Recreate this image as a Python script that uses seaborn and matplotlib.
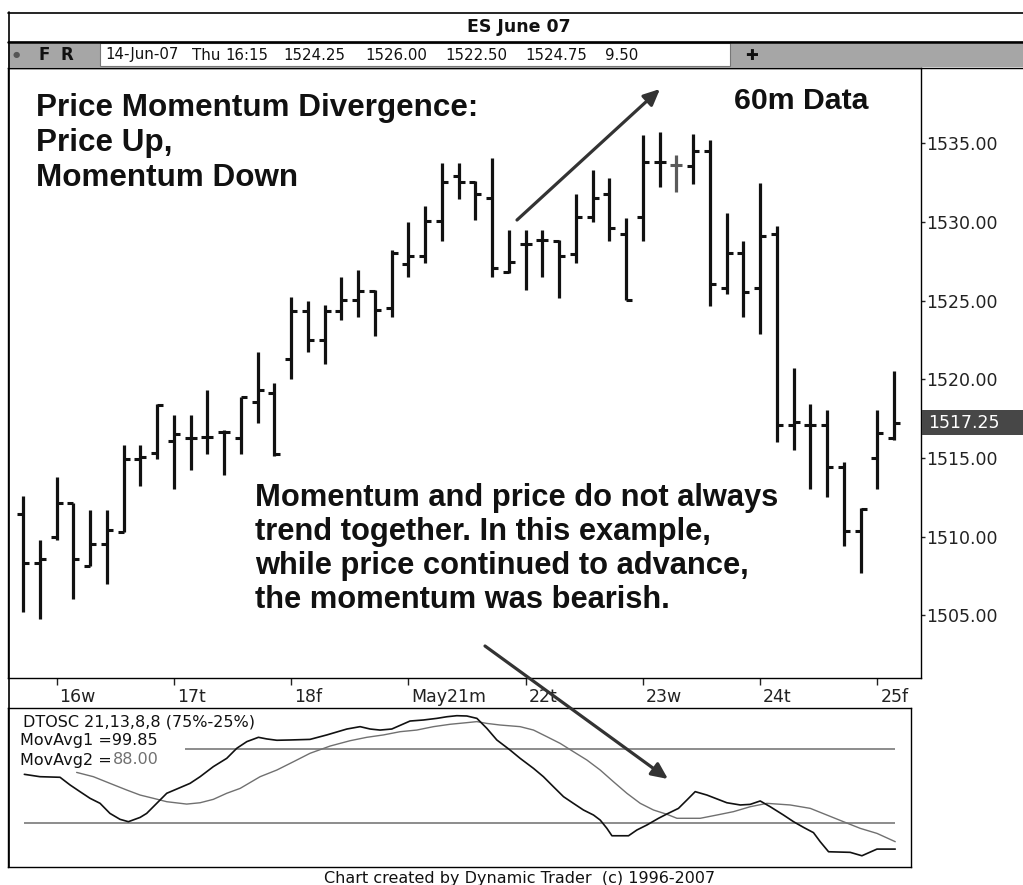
import numpy as np
import pandas as pd
import matplotlib
matplotlib.use("Agg")
import matplotlib.pyplot as plt
import matplotlib.transforms as mtransforms
from matplotlib.patches import Rectangle, FancyArrowPatch
from matplotlib.lines import Line2D
import seaborn as sns

# ---------------- data ----------------
bar_open = [1511.4, 1508.3, 1510.0, 1512.1, 1508.1, 1509.55, 1510.3, 1514.95, 1515.3, 1516.1,
            1516.25, 1516.3, 1516.65, 1516.25, 1518.55, 1519.1, 1521.3, 1524.35, 1522.5, 1524.35,
            1525.05, 1525.6, 1524.55, 1527.35, 1527.85, 1530.1, 1532.9, 1532.55, 1531.5, 1526.85,
            1528.6, 1528.85, 1528.8, 1528.0, 1530.3, 1531.8, 1529.25, 1530.35, 1533.85, 1533.6,
            1533.55, 1534.55, 1525.8, 1528.05, 1525.8, 1529.25, 1517.1, 1517.1, 1517.1, 1514.45,
            1510.35, 1515.0, 1516.25]
bar_high = [1512.6, 1509.75, 1513.8, 1512.1, 1511.7, 1511.7, 1515.8, 1515.8, 1518.4, 1517.7,
            1517.7, 1519.3, 1516.75, 1518.9, 1521.75, 1519.75, 1525.25, 1525.0, 1524.7, 1526.5,
            1526.95, 1525.7, 1528.2, 1530.0, 1531.0, 1533.75, 1533.75, 1532.6, 1534.05, 1529.5,
            1529.5, 1529.5, 1528.85, 1531.8, 1533.3, 1532.8, 1530.25, 1535.55, 1535.75, 1534.25,
            1535.6, 1535.25, 1530.55, 1528.8, 1532.5, 1529.75, 1520.7, 1518.45, 1518.05, 1514.75,
            1511.8, 1518.05, 1520.5]
bar_low = [1505.2, 1504.75, 1509.75, 1506.0, 1508.1, 1506.95, 1510.3, 1513.2, 1514.95, 1513.0,
           1514.25, 1515.25, 1513.9, 1515.25, 1517.25, 1515.1, 1520.0, 1521.75, 1520.95, 1523.75,
           1523.95, 1522.75, 1523.95, 1526.5, 1527.4, 1528.8, 1531.45, 1530.15, 1526.5, 1526.75,
           1525.7, 1526.5, 1525.2, 1527.4, 1530.0, 1528.8, 1525.05, 1528.8, 1532.25, 1531.9,
           1532.45, 1524.65, 1525.45, 1523.95, 1522.9, 1516.0, 1515.5, 1513.0, 1512.5, 1509.4,
           1507.7, 1513.0, 1516.15]
bar_close = [1508.3, 1508.6, 1512.1, 1508.6, 1509.55, 1510.4, 1514.95, 1515.05, 1518.35, 1516.55,
             1516.25, 1516.3, 1516.65, 1518.85, 1519.3, 1515.25, 1524.35, 1522.5, 1524.35, 1525.05,
             1525.6, 1524.4, 1528.05, 1527.85, 1530.1, 1532.55, 1532.55, 1531.8, 1527.05, 1527.45,
             1528.6, 1528.85, 1527.85, 1530.35, 1531.5, 1529.6, 1525.05, 1533.85, 1533.85, 1533.6,
             1534.55, 1526.05, 1528.05, 1525.55, 1529.1, 1517.1, 1517.3, 1517.1, 1514.45, 1510.35,
             1511.75, 1516.6, 1517.25]

day_labels = ["16w", "17t", "18f", "May21m", "22t", "23w", "24t", "25f"]
day_first_bar = [2, 9, 16, 23, 30, 37, 44, 51]
price_ticks = [1505, 1510, 1515, 1520, 1525, 1530, 1535]

osc_fast_x = [0.08, 1.01, 2.21, 2.81, 3.40, 4.0, 4.60, 5.19, 5.79, 6.29, 6.99, 7.38, 7.98, 8.58, 9.37,
              9.97, 10.57, 11.36, 12.16, 12.76, 13.36, 14.05, 14.55, 15.15, 15.94, 17.13, 18.13, 19.33,
              20.12, 20.72, 21.31, 22.01, 23.1, 23.9, 24.7, 25.3, 25.89, 26.49, 27.09, 27.68, 28.28,
              29.07, 29.67, 30.47, 31.06, 31.66, 32.26, 32.85, 33.45, 34.05, 34.45, 34.85, 35.15,
              36.14, 36.64, 37.24, 37.93, 38.43, 39.12, 39.62, 40.12, 40.82, 42.01, 42.81, 43.4, 44.0,
              44.6, 45.39, 45.99, 46.58, 47.18, 47.58, 48.08, 49.37, 50.07, 50.97, 52.06]
osc_fast_v = [58.1, 56.5, 56.1, 50.9, 46.4, 41.9, 38.5, 31.7, 27.7, 26.1, 29.0, 31.7, 38.5, 45.3, 49.1,
              52.0, 56.5, 63.3, 68.9, 75.7, 80.2, 83.1, 82.0, 81.1, 81.3, 81.7, 84.7, 88.7,
              90.3, 88.7, 88.0, 88.7, 94.1, 94.8, 95.9, 97.0, 97.7, 97.5, 95.9, 89.2, 81.3,
              74.5, 68.9, 62.1, 56.5, 49.7, 43.0, 38.5, 34.0, 30.6, 27.2, 21.6, 16.6,
              16.6, 20.5, 23.9, 28.4, 31.3, 35.1, 40.7, 46.4, 44.1, 38.9, 37.4, 37.8, 40.1,
              36.2, 30.6, 26.1, 22.3, 18.7, 12.6, 5.8, 5.4, 3.1, 7.6, 7.6]
osc_slow_x = [3.2, 4.2, 5.19, 6.19, 6.99, 7.78, 8.58, 9.77, 10.57, 11.36, 12.16, 12.96, 14.15, 15.15,
              16.14, 17.13, 18.33, 19.52, 20.52, 21.51, 22.51, 23.5, 24.5, 25.49, 26.49, 27.09, 27.68,
              28.48, 29.67, 30.47, 31.27, 32.06, 32.85, 33.65, 34.45, 35.24, 36.04, 36.84, 37.63,
              38.43, 39.03, 40.42, 41.41, 42.41, 43.4, 44.4, 45.79, 46.99, 47.98, 48.97, 49.97,
              50.97, 52.06]
osc_slow_v = [59.4, 56.5, 52.0, 47.5, 44.1, 41.9, 39.6, 38.0, 38.9, 41.2, 45.3, 48.6, 56.5, 61.0,
              66.6, 72.3, 77.2, 80.8, 83.1, 84.7, 86.9, 88.0, 90.3, 91.9, 93.0, 93.7, 92.5,
              91.4, 90.3, 88.0, 83.5, 79.0, 73.4, 67.8, 61.0, 53.1, 45.3, 38.5, 34.0,
              31.1, 28.4, 28.4, 30.6, 32.9, 36.2, 38.5, 37.4, 35.1, 30.6, 26.1, 21.6,
              18.2, 12.6]
osc_levels = [75, 25]

toolbar_items = ["14-Jun-07", "Thu", "16:15", "1524.25", "1526.00", "1522.50", "1524.75", "9.50"]

# ---------------- style ----------------
sns.set_style("white")
plt.rcParams['font.family'] = ['DejaVu Sans']

W, H = 1023, 885
def fx(px):
    return px / W
def fy(py):
    return 1 - py / H

fig = plt.figure(figsize=(W / 100, H / 100), dpi=100)
fig.patch.set_facecolor("white")

BLACK = "#111111"

# ---------------- price panel ----------------
ax = fig.add_axes([fx(8), fy(678), (921 - 8) / W, (678 - 68) / H])
n = len(bar_open)
xs = np.arange(n)
grey_bars = {39}
for i in range(n):
    c = "#5a5a5a" if i in grey_bars else BLACK
    ax.vlines(xs[i], bar_low[i], bar_high[i], color=c, lw=2.3)
    ax.plot([xs[i]], [bar_open[i]], ls="none", marker=0, ms=4.2, mew=2.2, color=c)
    ax.plot([xs[i]], [bar_close[i]], ls="none", marker=1, ms=4.2, mew=2.2, color=c)

ax.set_xlim(-0.896, 53.61)
ax.set_ylim(1501.0, 1539.8)
ax.yaxis.tick_right()
ax.set_yticks(price_ticks, [f"{v:.2f}" for v in price_ticks])
ax.tick_params(axis="y", direction="out", length=3, width=1, pad=1, labelsize=12.5,
               colors="#222222", right=True, left=False)
ax.set_xticks(day_first_bar, day_labels)
ax.tick_params(axis="x", direction="out", length=5, width=1, pad=2, labelsize=12.5,
               colors="#222222", bottom=True)
offset = mtransforms.ScaledTranslation(3 / 100, 0, fig.dpi_scale_trans)
for lbl in ax.get_xticklabels():
    lbl.set_ha("left")
    lbl.set_transform(lbl.get_transform() + offset)
for s in ax.spines.values():
    s.set_color("black")
    s.set_linewidth(1)
ax.grid(False)

# last price box
last = bar_close[-1]
blend = mtransforms.blended_transform_factory(fig.transFigure, ax.transData)
ax.add_patch(Rectangle((fx(922), last - 0.8), 1 - fx(922), 1.6, transform=blend,
                       facecolor="#474747", edgecolor="none", clip_on=False, zorder=5))
ax.text(fx(928), last, f"{last:.2f}", transform=blend, color="white", fontsize=12.5,
        va="center", ha="left", zorder=6, clip_on=False)

# annotations in the price panel
fig.text(fx(36), fy(143), "Price Momentum Divergence:\nPrice Up,\nMomentum Down",
         family="Liberation Sans", weight="bold", fontsize=22.6, va="center", ha="left",
         linespacing=1.2, color=BLACK)
fig.text(fx(734), fy(101), "60m Data", family="Liberation Sans", weight="bold",
         fontsize=21.8, va="center", ha="left", color=BLACK)
fig.text(fx(255), fy(549),
         "Momentum and price do not always\ntrend together. In this example,\n"
         "while price continued to advance,\nthe momentum was bearish.",
         family="Liberation Sans", weight="bold", fontsize=22.2, va="center", ha="left",
         linespacing=1.17, color=BLACK)

# ---------------- oscillator panel ----------------
ax2 = fig.add_axes([fx(8), fy(867), (911 - 8) / W, (867 - 708) / H])
fast_df = pd.DataFrame({"bar": osc_fast_x, "value": osc_fast_v})
slow_df = pd.DataFrame({"bar": osc_slow_x, "value": osc_slow_v})
ax2.hlines(osc_levels[0], 9.67, 52.06, color="#6e6e6e", lw=1.1)
ax2.hlines(osc_levels[1], 0.06, 52.06, color="#6e6e6e", lw=1.1)
sns.lineplot(data=slow_df, x="bar", y="value", ax=ax2, color="#707070", lw=1.0,
             sort=False, estimator=None)
sns.lineplot(data=fast_df, x="bar", y="value", ax=ax2, color=BLACK, lw=1.2,
             sort=False, estimator=None)
ax2.set_xlim(-0.896, 53.0)
ax2.set_ylim(-4.5, 102.9)
ax2.set_xticks([])
ax2.set_yticks([])
ax2.set_xlabel("")
ax2.set_ylabel("")
for s in ax2.spines.values():
    s.set_color("black")
    s.set_linewidth(1)

fig.text(fx(23), fy(722), "DTOSC 21,13,8,8 (75%-25%)", fontsize=11.5, va="center", color=BLACK)
fig.text(fx(20), fy(741), "MovAvg1 =99.85", fontsize=11.5, va="center", color=BLACK)
t_ma2 = fig.text(fx(20), fy(760), "MovAvg2 =", fontsize=11.5, va="center", color=BLACK)
ax2.annotate("88.00", xy=(1, 0.5), xycoords=t_ma2, xytext=(0.5, 0), textcoords="offset points",
             fontsize=11.5, va="center", ha="left", color="#707070", annotation_clip=False)

fig.text(fx(520), fy(878), "Chart created by Dynamic Trader  (c) 1996-2007", fontsize=11.5,
         va="center", ha="center", color=BLACK)

# ---------------- header / frame ----------------
fig.add_artist(Rectangle((fx(8), fy(67)), 1 - fx(8), (67 - 41) / H, transform=fig.transFigure,
                         facecolor="#a6a6a6", edgecolor="none", zorder=1))
fig.add_artist(Rectangle((fx(100), fy(66)), (730 - 100) / W, (66 - 43) / H,
                         transform=fig.transFigure, facecolor="white", edgecolor="#777777",
                         lw=0.8, zorder=2))
fig.add_artist(Line2D([fx(8), 1], [fy(12.5), fy(12.5)], color="black", lw=1.2))
fig.add_artist(Line2D([fx(8), 1], [fy(41.5), fy(41.5)], color="black", lw=1.8))
fig.add_artist(Line2D([fx(8), 1], [fy(67.5), fy(67.5)], color="black", lw=1.0))
fig.add_artist(Line2D([fx(8.5), fx(8.5)], [fy(12), fy(867)], color="black", lw=1.2))

fig.text(fx(519), fy(27), "ES June 07", fontsize=12.5, weight="bold", va="center", ha="center",
         color=BLACK)
fig.text(fx(13), fy(55), "\u25cf", fontsize=6, va="center", ha="left", color="#555555", zorder=3)
fig.text(fx(38), fy(55), "F", fontsize=12, weight="bold", va="center", ha="left", color=BLACK, zorder=3)
fig.text(fx(60), fy(55), "R", fontsize=12, weight="bold", va="center", ha="left", color=BLACK, zorder=3)
tb_x = [105, 192, 225, 283, 365, 445, 525, 605]
for xx, t in zip(tb_x, toolbar_items):
    fig.text(fx(xx), fy(55), t, fontsize=10.8, va="center", ha="left", color=BLACK, zorder=3)
fig.text(fx(752), fy(55), "\u271a", fontsize=11, va="center", ha="center", color=BLACK, zorder=3)

# ---------------- arrows ----------------
for (x0, y0, x1, y1) in [(517, 220, 660, 89), (485, 646, 668, 779)]:
    fig.add_artist(FancyArrowPatch((fx(x0), fy(y0)), (fx(x1), fy(y1)),
                                   transform=fig.transFigure,
                                   arrowstyle="-|>,head_length=0.65,head_width=0.3",
                                   mutation_scale=15, lw=2.3, color="#333333",
                                   shrinkA=0, shrinkB=0, zorder=10))

fig.savefig("out.png", dpi=100, facecolor="white")
